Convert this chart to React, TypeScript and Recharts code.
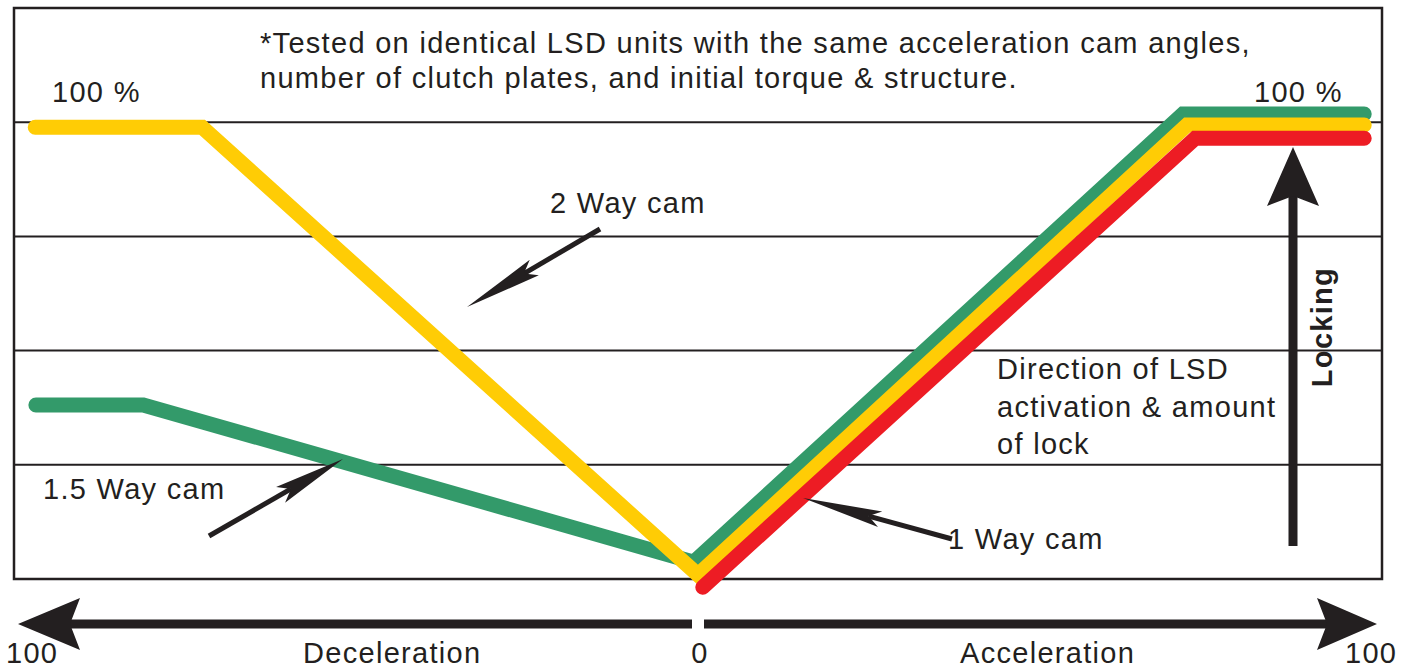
import React from 'react'
import { LineChart, Line, XAxis, YAxis, ReferenceLine, ReferenceArea } from 'recharts'

// x: -100 (full deceleration) .. 0 .. 100 (full acceleration); y: locking in %
const twoWayX = [-96.9, -72.5, 0, 71.5, 97.4]
const twoWayY = [98.9, 98.9, 0.9, 99.4, 99.4]
const onePointFiveWayX = [-96.8, -81.1, -0.6, 70.9, 97.4]
const onePointFiveWayY = [38.1, 38.1, 3.7, 101.8, 101.8]
const oneWayX = [0.7, 72.7, 97.4]
const oneWayY = [-1.8, 96.5, 96.5]
const gridLevels = [25, 50, 75, 100]

const toPoints = (xs: number[], ys: number[]) => xs.map((x, i) => ({ x, y: ys[i] }))

const twoWay = toPoints(twoWayX, twoWayY)
const onePointFiveWay = toPoints(onePointFiveWayX, onePointFiveWayY)
const oneWay = toPoints(oneWayX, oneWayY)

const INK = '#231f20'
const GREEN = '#339a6a'
const YELLOW = '#ffcc05'
const RED = '#ed1c24'
const FONT = '"Liberation Sans", Arial, Helvetica, sans-serif'

type Pt = [number, number]

// notched arrow: shaft from tail to notch, filled head at tip
const Arrow = ({ tail, tip, len, half, notch, width }: { tail: Pt; tip: Pt; len: number; half: number; notch: number; width: number }) => {
  const dx = tip[0] - tail[0]
  const dy = tip[1] - tail[1]
  const d = Math.hypot(dx, dy)
  const ux = dx / d
  const uy = dy / d
  const px = -uy
  const py = ux
  const bx = tip[0] - ux * len
  const by = tip[1] - uy * len
  const nx = tip[0] - ux * (len - notch)
  const ny = tip[1] - uy * (len - notch)
  const head = [
    tip,
    [bx + px * half, by + py * half],
    [nx, ny],
    [bx - px * half, by - py * half],
  ]
  return (
    <g>
      <line x1={tail[0]} y1={tail[1]} x2={nx} y2={ny} stroke={INK} strokeWidth={width} />
      <polygon points={head.map(p => p.join(',')).join(' ')} fill={INK} />
    </g>
  )
}

const txt = { fontFamily: FONT, fontSize: 29, fill: INK, letterSpacing: 1.3 } as const

export default function App() {
  return (
    <div style={{ position: 'absolute', left: 0, top: 0, width: 1415, height: 671, background: '#fff' }}>
      <LineChart
        width={1415}
        height={671}
        margin={{ top: 8, right: 33, bottom: 46.32, left: 14 }}
      >
        <XAxis type="number" dataKey="x" domain={[-100, 100]} hide allowDataOverflow />
        <YAxis type="number" dataKey="y" domain={[-10, 125]} hide allowDataOverflow />
        <ReferenceArea x1={-100} x2={100} y1={0} y2={125} fill="none" stroke={INK} strokeWidth={2.5} ifOverflow="visible" />
        {gridLevels.map(v => (
          <ReferenceLine key={v} y={v} stroke={INK} strokeWidth={2} ifOverflow="visible" />
        ))}
        <Line
          data={onePointFiveWay}
          dataKey="y"
          type="linear"
          stroke={GREEN}
          strokeWidth={15}
          strokeLinecap="round"
          strokeLinejoin="miter"
          dot={false}
          isAnimationActive={false}
        />
        <Line
          data={twoWay}
          dataKey="y"
          type="linear"
          stroke={YELLOW}
          strokeWidth={15}
          strokeLinecap="round"
          strokeLinejoin="miter"
          dot={false}
          isAnimationActive={false}
        />
        <Line
          data={oneWay}
          dataKey="y"
          type="linear"
          stroke={RED}
          strokeWidth={15}
          strokeLinecap="round"
          strokeLinejoin="miter"
          dot={false}
          isAnimationActive={false}
        />
      </LineChart>

      <svg width={1415} height={671} style={{ position: 'absolute', left: 0, top: 0, pointerEvents: 'none' }}>
        <text x={260} y={53} {...txt}>*Tested on identical LSD units with the same acceleration cam angles,</text>
        <text x={260} y={88} {...txt}>number of clutch plates, and initial torque &amp; structure.</text>
        <text x={52} y={102} {...txt}>100 %</text>
        <text x={1254} y={102} {...txt}>100 %</text>
        <text x={550} y={213} {...txt}>2 Way cam</text>
        <text x={43} y={499} {...txt}>1.5 Way cam</text>
        <text x={948} y={549} {...txt}>1 Way cam</text>
        <text x={997} y={379} {...txt}>Direction of LSD</text>
        <text x={997} y={417} {...txt}>activation &amp; amount</text>
        <text x={997} y={454} {...txt}>of lock</text>

        <Arrow tail={[600, 229]} tip={[467, 307]} len={78} half={9} notch={12} width={5} />
        <Arrow tail={[209, 536]} tip={[343, 459]} len={72} half={9} notch={12} width={5} />
        <Arrow tail={[952, 539]} tip={[803, 498]} len={80} half={8} notch={12} width={5} />

        {/* locking arrow */}
        <Arrow tail={[1293, 546]} tip={[1293, 147]} len={59} half={26} notch={10} width={9} />
        <text
          x={1332}
          y={327}
          transform="rotate(-90 1332 327)"
          textAnchor="middle"
          {...txt}
          fontWeight="bold"
        >
          Locking
        </text>

        {/* deceleration / acceleration axis */}
        <Arrow tail={[692, 624]} tip={[18, 624]} len={62} half={26} notch={10} width={9} />
        <Arrow tail={[704, 624]} tip={[1377, 624]} len={60} half={26} notch={10} width={9} />
        <text x={6} y={663} {...txt}>100</text>
        <text x={303} y={663} {...txt}>Deceleration</text>
        <text x={700} y={663} textAnchor="middle" {...txt}>0</text>
        <text x={960} y={663} {...txt}>Acceleration</text>
        <text x={1345} y={663} {...txt}>100</text>
      </svg>
    </div>
  )
}
